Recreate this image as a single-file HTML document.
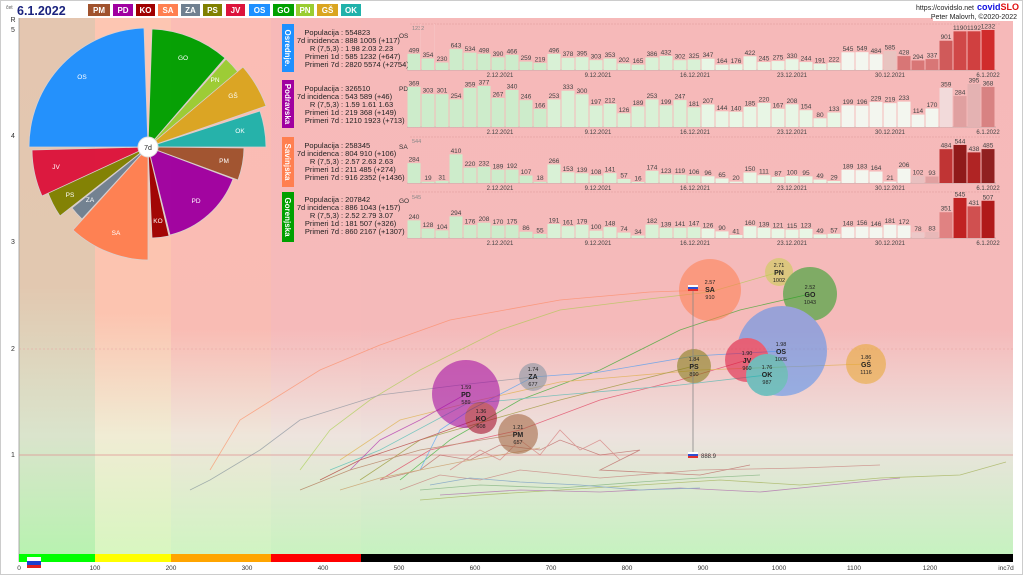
<!DOCTYPE html>
<html><head><meta charset="utf-8"><style>
html,body{margin:0;padding:0;background:#fff;width:1024px;height:576px;overflow:hidden}
svg{display:block;font-family:"Liberation Sans",sans-serif}
.bl{font-size:6.5px;fill:#444;text-anchor:middle}
.inf{font-size:7.5px;fill:#222}
.dt{font-size:6px;fill:#444;text-anchor:middle}
.pl{font-size:6.5px;fill:#fff;text-anchor:middle}
.bt{text-anchor:middle;fill:#222}
.ax{font-size:6.5px;fill:#333;text-anchor:middle}
</style></head><body>
<svg width="1024" height="576" viewBox="0 0 1024 576">
<defs>
<linearGradient id="bg" x1="0" y1="0" x2="0" y2="1">
<stop offset="0" stop-color="#f6b9b9"/><stop offset="0.58" stop-color="#f5baba"/><stop offset="0.78" stop-color="#ede2de"/><stop offset="1" stop-color="#c6f2c0"/></linearGradient>
<linearGradient id="c1" x1="0" y1="0" x2="0" y2="1"><stop offset="0" stop-color="#e4c6b0"/><stop offset="0.5" stop-color="#e2c8b0"/><stop offset="0.78" stop-color="#dae4cc"/><stop offset="1" stop-color="#b8f2b0"/></linearGradient>
<linearGradient id="c2" x1="0" y1="0" x2="0" y2="1"><stop offset="0" stop-color="#fdc6b2"/><stop offset="0.55" stop-color="#fcc4b0"/><stop offset="0.78" stop-color="#f0ecd4"/><stop offset="1" stop-color="#d8f6c0"/></linearGradient>
<linearGradient id="c3" x1="0" y1="0" x2="0" y2="1"><stop offset="0" stop-color="#fbbdb5"/><stop offset="0.58" stop-color="#f9bcb4"/><stop offset="0.78" stop-color="#efe6da"/><stop offset="1" stop-color="#d0f4c2"/></linearGradient>
<linearGradient id="c4" x1="0" y1="0" x2="0" y2="1"><stop offset="0" stop-color="#f7b9b8"/><stop offset="0.58" stop-color="#f6baba"/><stop offset="0.78" stop-color="#eee4de"/><stop offset="1" stop-color="#caf2c0"/></linearGradient>
</defs>
<rect x="0" y="0" width="1024" height="576" fill="#fff"/>
<rect x="0.5" y="0.5" width="1022" height="574" fill="none" stroke="#ccc"/>
<rect x="19" y="18" width="994" height="536" fill="url(#bg)"/>
<rect x="19" y="18" width="76" height="536" fill="url(#c1)"/>
<rect x="95" y="18" width="76" height="536" fill="url(#c2)"/>
<rect x="171" y="18" width="100" height="536" fill="url(#c3)"/>
<rect x="271" y="18" width="90" height="536" fill="url(#c4)"/>
<line x1="19" y1="18" x2="19" y2="562" stroke="#999" stroke-width="0.8"/>
<line x1="19" y1="349" x2="1013" y2="349" stroke="#e8a0a0" stroke-width="0.6" stroke-dasharray="2,2"/>
<line x1="19" y1="455" x2="1013" y2="455" stroke="#e09090" stroke-width="0.8"/>
<rect x="19" y="554" width="76" height="8" fill="#00ff00"/>
<rect x="95" y="554" width="76" height="8" fill="#ffff00"/>
<rect x="171" y="554" width="100" height="8" fill="#ffa500"/>
<rect x="271" y="554" width="90" height="8" fill="#ff0000"/>
<rect x="361" y="554" width="652" height="8" fill="#000"/>
<rect x="27" y="557" width="14" height="4" fill="#fff"/><rect x="27" y="561" width="14" height="4" fill="#1c3fd0"/><rect x="27" y="565" width="14" height="3" fill="#e02020"/>
<g class="ax"><text x="19" y="570">0</text><text x="95" y="570">100</text><text x="171" y="570">200</text><text x="247" y="570">300</text><text x="323" y="570">400</text><text x="399" y="570">500</text><text x="475" y="570">600</text><text x="551" y="570">700</text><text x="627" y="570">800</text><text x="703" y="570">900</text><text x="779" y="570">1000</text><text x="854" y="570">1100</text><text x="930" y="570">1200</text><text x="1006" y="570">inc7d</text></g>
<g style="font-size:7px;fill:#333" text-anchor="middle"><text x="13" y="22">R</text><text x="13" y="32">5</text><text x="13" y="138">4</text><text x="13" y="244">3</text><text x="13" y="351">2</text><text x="13" y="457">1</text></g>

<text x="6" y="9" style="font-size:5px;fill:#555">čet</text>
<text x="17" y="15" style="font-size:12.5px;font-weight:bold;fill:#1a237e">6.1.2022</text>
<g style="font-size:8px;font-weight:bold" fill="#fff" text-anchor="middle">
<rect x="88" y="4" width="22" height="12" fill="#a0522d"/><text x="99" y="13">PM</text>
<rect x="113" y="4" width="20" height="12" fill="#a000a0"/><text x="123" y="13">PD</text>
<rect x="136" y="4" width="19" height="12" fill="#a00000"/><text x="145.5" y="13">KO</text>
<rect x="158" y="4" width="20" height="12" fill="#ff7f50"/><text x="168" y="13">SA</text>
<rect x="181" y="4" width="19" height="12" fill="#708090"/><text x="190.5" y="13">ZA</text>
<rect x="203" y="4" width="19" height="12" fill="#808000"/><text x="212.5" y="13">PS</text>
<rect x="226" y="4" width="19" height="12" fill="#dc143c"/><text x="235.5" y="13">JV</text>
<rect x="249" y="4" width="21" height="12" fill="#1e90ff"/><text x="259.5" y="13">OS</text>
<rect x="273" y="4" width="21" height="12" fill="#00a000"/><text x="283.5" y="13">GO</text>
<rect x="296" y="4" width="18" height="12" fill="#9acd32"/><text x="305" y="13">PN</text>
<rect x="317" y="4" width="21" height="12" fill="#daa520"/><text x="327.5" y="13">GŠ</text>
<rect x="341" y="4" width="20" height="12" fill="#20b2aa"/><text x="351" y="13">OK</text>
</g>
<text x="974" y="10" text-anchor="end" style="font-size:7px;fill:#222">https://covidslo.net</text>
<text x="977" y="10" style="font-size:9px;font-weight:bold;fill:#1010e0">covid<tspan fill="#e01010">SLO</tspan></text>
<rect x="933" y="12" width="86" height="9" fill="#fff"/>
<text x="1017" y="19" text-anchor="end" style="font-size:7px;fill:#222">Peter Malovrh, ©2020-2022</text>

<g stroke="#d8d0d0" stroke-width="0.8" opacity="0.97">
<path d="M148,147 L29,147 A119,119 0 0 1 144,28 Z" fill="#1e90ff"/>
<path d="M148,147 L152,29 A118,118 0 0 1 225,58 Z" fill="#00a000"/>
<path d="M148,147 L226,59 A117,117 0 0 1 238,72 Z" fill="#9acd32"/>
<path d="M148,147 L243,67 A124,124 0 0 1 266,106 Z" fill="#daa520"/>
<path d="M148,147 L260,111 A118,118 0 0 1 266,147 Z" fill="#20b2aa"/>
<path d="M148,147 L244,148 A96,96 0 0 1 238,180 Z" fill="#a0522d"/>
<path d="M148,147 L233,179 A90,90 0 0 1 170,235 Z" fill="#a000a0"/>
<path d="M148,147 L169,236 A91,91 0 0 1 152,238 Z" fill="#a00000"/>
<path d="M148,147 L148,260 A113,113 0 0 1 73,230 Z" fill="#ff7f50"/>
<path d="M148,147 L82,219 A98,98 0 0 1 72,208 Z" fill="#708090"/>
<path d="M148,147 L60,216 A112,112 0 0 1 47,190 Z" fill="#808000"/>
<path d="M148,147 L42,196 A117,117 0 0 1 32,150 Z" fill="#dc143c"/>
</g>
<g class="pl"><text x="82" y="79">OS</text><text x="183" y="60">GO</text><text x="215" y="82">PN</text><text x="233" y="98">GŠ</text><text x="240" y="133">OK</text><text x="224" y="163">PM</text><text x="196" y="203">PD</text><text x="158" y="223">KO</text><text x="116" y="235">SA</text><text x="90" y="202">ZA</text><text x="70" y="197">PS</text><text x="56" y="169">JV</text></g>
<circle cx="148" cy="147" r="10" fill="#fff" stroke="#ddd"/>
<text x="148" y="150" class="bt" style="font-size:7px">7d</text>

<rect x="282" y="24" width="12" height="48" fill="#1e90ff"/>
<rect x="282" y="80" width="12" height="48" fill="#a000a0"/>
<rect x="282" y="137" width="12" height="50" fill="#ff7f50"/>
<rect x="282" y="192" width="12" height="50" fill="#00a000"/>
<g style="font-size:8px;font-weight:bold" fill="#fff" text-anchor="middle">
<text transform="translate(285,48) rotate(90)">Osrednje.</text>
<text transform="translate(285,104) rotate(90)">Podravska</text>
<text transform="translate(285,162) rotate(90)">Savinjska</text>
<text transform="translate(285,217) rotate(90)">Gorenjska</text>
</g>
<g class="inf">
<g text-anchor="end"><text x="339" y="35">Populacija</text><text x="339" y="43">7d incidenca</text><text x="339" y="51">R (7,5,3)</text><text x="339" y="59">Primeri 1d</text><text x="339" y="67">Primeri 7d</text>
<text x="339" y="91">Populacija</text><text x="339" y="99">7d incidenca</text><text x="339" y="107">R (7,5,3)</text><text x="339" y="115">Primeri 1d</text><text x="339" y="123">Primeri 7d</text>
<text x="339" y="148">Populacija</text><text x="339" y="156">7d incidenca</text><text x="339" y="164">R (7,5,3)</text><text x="339" y="172">Primeri 1d</text><text x="339" y="180">Primeri 7d</text>
<text x="339" y="202">Populacija</text><text x="339" y="210">7d incidenca</text><text x="339" y="218">R (7,5,3)</text><text x="339" y="226">Primeri 1d</text><text x="339" y="234">Primeri 7d</text></g>
<text x="341" y="35">: 554823</text><text x="341" y="43">: 888 1005 (+117)</text><text x="341" y="51">: 1.98 2.03 2.23</text><text x="341" y="59">: 585 1232 (+647)</text><text x="341" y="67">: 2820 5574 (+2754)</text>
<text x="341" y="91">: 326510</text><text x="341" y="99">: 543 589 (+46)</text><text x="341" y="107">: 1.59 1.61 1.63</text><text x="341" y="115">: 219 368 (+149)</text><text x="341" y="123">: 1210 1923 (+713)</text>
<text x="341" y="148">: 258345</text><text x="341" y="156">: 804 910 (+106)</text><text x="341" y="164">: 2.57 2.63 2.63</text><text x="341" y="172">: 211 485 (+274)</text><text x="341" y="180">: 916 2352 (+1436)</text>
<text x="341" y="202">: 207842</text><text x="341" y="210">: 886 1043 (+157)</text><text x="341" y="218">: 2.52 2.79 3.07</text><text x="341" y="226">: 181 507 (+326)</text><text x="341" y="234">: 860 2167 (+1307)</text>
</g>
<g style="font-size:6.5px;fill:#333"><text x="399" y="38">OS</text><text x="399" y="91">PD</text><text x="399" y="149">SA</text><text x="399" y="203">GO</text></g>
<g style="font-size:5.5px;fill:#888"><text x="412" y="30">1232</text><text x="412" y="143">544</text><text x="412" y="199">545</text></g>
<g stroke="#d99" stroke-width="0.5" stroke-dasharray="2,1"><line x1="410" y1="24" x2="1000" y2="24"/><line x1="410" y1="137" x2="1000" y2="137"/><line x1="410" y1="192" x2="1000" y2="192"/></g>
<g stroke="#999" stroke-width="0.6"><line x1="407" y1="70" x2="996" y2="70"/><line x1="407" y1="127" x2="996" y2="127"/><line x1="407" y1="183" x2="996" y2="183"/><line x1="407" y1="238" x2="996" y2="238"/></g>
<g class="dt"><text x="500" y="77">2.12.2021</text><text x="598" y="77">9.12.2021</text><text x="695" y="77">16.12.2021</text><text x="792" y="77">23.12.2021</text><text x="890" y="77">30.12.2021</text><text x="988" y="77">6.1.2022</text>
<text x="500" y="134">2.12.2021</text><text x="598" y="134">9.12.2021</text><text x="695" y="134">16.12.2021</text><text x="792" y="134">23.12.2021</text><text x="890" y="134">30.12.2021</text><text x="988" y="134">6.1.2022</text>
<text x="500" y="190">2.12.2021</text><text x="598" y="190">9.12.2021</text><text x="695" y="190">16.12.2021</text><text x="792" y="190">23.12.2021</text><text x="890" y="190">30.12.2021</text><text x="988" y="190">6.1.2022</text>
<text x="500" y="245">2.12.2021</text><text x="598" y="245">9.12.2021</text><text x="695" y="245">16.12.2021</text><text x="792" y="245">23.12.2021</text><text x="890" y="245">30.12.2021</text><text x="988" y="245">6.1.2022</text></g>

<g stroke="#f2c0c0" stroke-width="0">
<g transform="translate(0,70) scale(1,-0.03247)">
<g fill="#cdeccb"><rect x="407.5" y="0" width="13" height="499"/><rect x="421.5" y="0" width="13" height="354"/><rect x="435.5" y="0" width="13" height="230"/><rect x="449.5" y="0" width="13" height="643"/><rect x="463.5" y="0" width="13" height="534"/><rect x="477.5" y="0" width="13" height="498"/><rect x="491.5" y="0" width="13" height="390"/><rect x="505.5" y="0" width="13" height="466"/><rect x="519.5" y="0" width="13" height="259"/><rect x="533.5" y="0" width="13" height="219"/></g>
<g fill="#d9f1d6"><rect x="547.5" y="0" width="13" height="496"/><rect x="561.5" y="0" width="13" height="378"/><rect x="575.5" y="0" width="13" height="395"/><rect x="589.5" y="0" width="13" height="303"/><rect x="603.5" y="0" width="13" height="353"/><rect x="617.5" y="0" width="13" height="202"/><rect x="631.5" y="0" width="13" height="165"/><rect x="645.5" y="0" width="13" height="386"/><rect x="659.5" y="0" width="13" height="432"/><rect x="673.5" y="0" width="13" height="302"/><rect x="687.5" y="0" width="13" height="325"/></g>
<g fill="#e8f6e5"><rect x="701.5" y="0" width="13" height="347"/><rect x="715.5" y="0" width="13" height="164"/><rect x="729.5" y="0" width="13" height="176"/><rect x="743.5" y="0" width="13" height="422"/><rect x="757.5" y="0" width="13" height="245"/><rect x="771.5" y="0" width="13" height="275"/><rect x="785.5" y="0" width="13" height="330"/><rect x="799.5" y="0" width="13" height="244"/><rect x="813.5" y="0" width="13" height="191"/><rect x="827.5" y="0" width="13" height="222"/></g>
<g fill="#f3f6ef"><rect x="841.5" y="0" width="13" height="545"/><rect x="855.5" y="0" width="13" height="549"/><rect x="869.5" y="0" width="13" height="484"/></g>
<rect x="883.5" y="0" width="13" height="585" fill="#e8c4c0"/><rect x="897.5" y="0" width="13" height="428" fill="#d87676"/><rect x="911.5" y="0" width="13" height="294" fill="#d87676"/><rect x="925.5" y="0" width="13" height="337" fill="#d87676"/>
<rect x="939.5" y="0" width="13" height="901" fill="#d05a5a"/><rect x="953.5" y="0" width="13" height="1190" fill="#d04848"/><rect x="967.5" y="0" width="13" height="1192" fill="#d04040"/><rect x="981.5" y="0" width="13" height="1232" fill="#d02c2c"/>
</g>
</g>
<g class="bl"><text x="414" y="52.3">499</text><text x="428" y="57">354</text><text x="442" y="61">230</text><text x="456" y="47.6">643</text><text x="470" y="51.2">534</text><text x="484" y="52.3">498</text><text x="498" y="55.8">390</text><text x="512" y="53.4">466</text><text x="526" y="60.1">259</text><text x="540" y="61.4">219</text><text x="554" y="52.4">496</text><text x="568" y="56.2">378</text><text x="582" y="55.7">395</text><text x="596" y="58.7">303</text><text x="610" y="57">353</text><text x="624" y="61.9">202</text><text x="638" y="63.1">165</text><text x="652" y="56">386</text><text x="666" y="54.5">432</text><text x="680" y="58.7">302</text><text x="694" y="57.9">325</text><text x="708" y="57.2">347</text><text x="722" y="63.2">164</text><text x="736" y="62.8">176</text><text x="750" y="54.8">422</text><text x="764" y="60.5">245</text><text x="778" y="59.6">275</text><text x="792" y="57.8">330</text><text x="806" y="60.6">244</text><text x="820" y="62.3">191</text><text x="834" y="61.3">222</text><text x="848" y="50.8">545</text><text x="862" y="50.7">549</text><text x="876" y="52.8">484</text><text x="890" y="49.5">585</text><text x="904" y="54.6">428</text><text x="918" y="59">294</text><text x="932" y="57.6">337</text><text x="946" y="39.2">901</text><text x="960" y="29.9">1190</text><text x="974" y="29.8">1192</text><text x="988" y="28.5">1232</text></g>

<g transform="translate(0,127) scale(1,-0.1089)">
<g fill="#cdeccb"><rect x="407.5" y="0" width="13" height="369"/><rect x="421.5" y="0" width="13" height="303"/><rect x="435.5" y="0" width="13" height="301"/><rect x="449.5" y="0" width="13" height="254"/><rect x="463.5" y="0" width="13" height="359"/><rect x="477.5" y="0" width="13" height="377"/><rect x="491.5" y="0" width="13" height="267"/><rect x="505.5" y="0" width="13" height="340"/><rect x="519.5" y="0" width="13" height="246"/><rect x="533.5" y="0" width="13" height="166"/></g>
<g fill="#d9f1d6"><rect x="547.5" y="0" width="13" height="253"/><rect x="561.5" y="0" width="13" height="333"/><rect x="575.5" y="0" width="13" height="300"/><rect x="589.5" y="0" width="13" height="197"/><rect x="603.5" y="0" width="13" height="212"/><rect x="617.5" y="0" width="13" height="126"/><rect x="631.5" y="0" width="13" height="189"/><rect x="645.5" y="0" width="13" height="253"/><rect x="659.5" y="0" width="13" height="199"/><rect x="673.5" y="0" width="13" height="247"/><rect x="687.5" y="0" width="13" height="181"/></g>
<g fill="#e8f6e5"><rect x="701.5" y="0" width="13" height="207"/><rect x="715.5" y="0" width="13" height="144"/><rect x="729.5" y="0" width="13" height="140"/><rect x="743.5" y="0" width="13" height="185"/><rect x="757.5" y="0" width="13" height="220"/><rect x="771.5" y="0" width="13" height="167"/><rect x="785.5" y="0" width="13" height="208"/><rect x="799.5" y="0" width="13" height="154"/><rect x="813.5" y="0" width="13" height="80"/><rect x="827.5" y="0" width="13" height="133"/></g>
<g fill="#f3f6ef"><rect x="841.5" y="0" width="13" height="199"/><rect x="855.5" y="0" width="13" height="196"/><rect x="869.5" y="0" width="13" height="229"/><rect x="883.5" y="0" width="13" height="219"/><rect x="897.5" y="0" width="13" height="233"/><rect x="911.5" y="0" width="13" height="114"/><rect x="925.5" y="0" width="13" height="170"/></g>
<rect x="939.5" y="0" width="13" height="359" fill="#f2dada"/><rect x="953.5" y="0" width="13" height="284" fill="#e0a0a0"/><rect x="967.5" y="0" width="13" height="395" fill="#e4b2b2"/><rect x="981.5" y="0" width="13" height="368" fill="#d88282"/>
</g>
<g class="bl"><text x="414" y="85.3">369</text><text x="428" y="92.5">303</text><text x="442" y="92.7">301</text><text x="456" y="97.8">254</text><text x="470" y="86.4">359</text><text x="484" y="84.4">377</text><text x="498" y="96.4">267</text><text x="512" y="88.5">340</text><text x="526" y="98.7">246</text><text x="540" y="107.4">166</text><text x="554" y="97.9">253</text><text x="568" y="89.2">333</text><text x="582" y="92.8">300</text><text x="596" y="104">197</text><text x="610" y="102.4">212</text><text x="624" y="111.8">126</text><text x="638" y="104.9">189</text><text x="652" y="97.9">253</text><text x="666" y="103.8">199</text><text x="680" y="98.6">247</text><text x="694" y="105.8">181</text><text x="708" y="103">207</text><text x="722" y="109.8">144</text><text x="736" y="110.3">140</text><text x="750" y="105.4">185</text><text x="764" y="101.5">220</text><text x="778" y="107.3">167</text><text x="792" y="102.8">208</text><text x="806" y="108.7">154</text><text x="820" y="116.8">80</text><text x="834" y="111">133</text><text x="848" y="103.8">199</text><text x="862" y="104.2">196</text><text x="876" y="100.6">229</text><text x="890" y="101.7">219</text><text x="904" y="100.1">233</text><text x="918" y="113.1">114</text><text x="932" y="107">170</text><text x="946" y="86.4">359</text><text x="960" y="94.6">284</text><text x="974" y="82.5">395</text><text x="988" y="85.4">368</text></g>

<g transform="translate(0,183) scale(1,-0.0699)">
<g fill="#cdeccb"><rect x="407.5" y="0" width="13" height="284"/><rect x="421.5" y="0" width="13" height="19"/><rect x="435.5" y="0" width="13" height="31"/><rect x="449.5" y="0" width="13" height="410"/><rect x="463.5" y="0" width="13" height="220"/><rect x="477.5" y="0" width="13" height="232"/><rect x="491.5" y="0" width="13" height="189"/><rect x="505.5" y="0" width="13" height="192"/><rect x="519.5" y="0" width="13" height="107"/><rect x="533.5" y="0" width="13" height="18"/></g>
<g fill="#d9f1d6"><rect x="547.5" y="0" width="13" height="266"/><rect x="561.5" y="0" width="13" height="153"/><rect x="575.5" y="0" width="13" height="139"/><rect x="589.5" y="0" width="13" height="108"/><rect x="603.5" y="0" width="13" height="141"/><rect x="617.5" y="0" width="13" height="57"/><rect x="631.5" y="0" width="13" height="16"/><rect x="645.5" y="0" width="13" height="174"/><rect x="659.5" y="0" width="13" height="123"/><rect x="673.5" y="0" width="13" height="119"/><rect x="687.5" y="0" width="13" height="106"/></g>
<g fill="#e8f6e5"><rect x="701.5" y="0" width="13" height="96"/><rect x="715.5" y="0" width="13" height="65"/><rect x="729.5" y="0" width="13" height="20"/><rect x="743.5" y="0" width="13" height="150"/><rect x="757.5" y="0" width="13" height="111"/><rect x="771.5" y="0" width="13" height="87"/><rect x="785.5" y="0" width="13" height="100"/><rect x="799.5" y="0" width="13" height="95"/><rect x="813.5" y="0" width="13" height="49"/><rect x="827.5" y="0" width="13" height="29"/></g>
<g fill="#f3f6ef"><rect x="841.5" y="0" width="13" height="189"/><rect x="855.5" y="0" width="13" height="183"/><rect x="869.5" y="0" width="13" height="164"/><rect x="883.5" y="0" width="13" height="21"/><rect x="897.5" y="0" width="13" height="206"/></g>
<rect x="911.5" y="0" width="13" height="102" fill="#e8c0c0"/><rect x="925.5" y="0" width="13" height="93" fill="#e0a0a0"/>
<rect x="939.5" y="0" width="13" height="484" fill="#c03434"/><rect x="953.5" y="0" width="13" height="544" fill="#901a1a"/><rect x="967.5" y="0" width="13" height="438" fill="#b02424"/><rect x="981.5" y="0" width="13" height="485" fill="#902020"/>
</g>
<g class="bl"><text x="414" y="161.6">284</text><text x="428" y="180.2">19</text><text x="442" y="179.3">31</text><text x="456" y="152.8">410</text><text x="470" y="166.1">220</text><text x="484" y="165.3">232</text><text x="498" y="168.3">189</text><text x="512" y="168.1">192</text><text x="526" y="174">107</text><text x="540" y="180.2">18</text><text x="554" y="162.9">266</text><text x="568" y="170.8">153</text><text x="582" y="171.8">139</text><text x="596" y="174">108</text><text x="610" y="171.6">141</text><text x="624" y="177.5">57</text><text x="638" y="180.4">16</text><text x="652" y="169.3">174</text><text x="666" y="172.9">123</text><text x="680" y="173.2">119</text><text x="694" y="174.1">106</text><text x="708" y="174.8">96</text><text x="722" y="177">65</text><text x="736" y="180.1">20</text><text x="750" y="171">150</text><text x="764" y="173.7">111</text><text x="778" y="175.4">87</text><text x="792" y="174.5">100</text><text x="806" y="174.9">95</text><text x="820" y="178.1">49</text><text x="834" y="179.5">29</text><text x="848" y="168.3">189</text><text x="862" y="168.7">183</text><text x="876" y="170">164</text><text x="890" y="180">21</text><text x="904" y="167.1">206</text><text x="918" y="174.4">102</text><text x="932" y="175">93</text><text x="946" y="147.7">484</text><text x="960" y="143.5">544</text><text x="974" y="150.9">438</text><text x="988" y="147.6">485</text></g>

<g transform="translate(0,238) scale(1,-0.0734)">
<g fill="#cdeccb"><rect x="407.5" y="0" width="13" height="240"/><rect x="421.5" y="0" width="13" height="128"/><rect x="435.5" y="0" width="13" height="104"/><rect x="449.5" y="0" width="13" height="294"/><rect x="463.5" y="0" width="13" height="176"/><rect x="477.5" y="0" width="13" height="208"/><rect x="491.5" y="0" width="13" height="170"/><rect x="505.5" y="0" width="13" height="175"/><rect x="519.5" y="0" width="13" height="86"/><rect x="533.5" y="0" width="13" height="55"/></g>
<g fill="#d9f1d6"><rect x="547.5" y="0" width="13" height="191"/><rect x="561.5" y="0" width="13" height="161"/><rect x="575.5" y="0" width="13" height="179"/><rect x="589.5" y="0" width="13" height="100"/><rect x="603.5" y="0" width="13" height="148"/><rect x="617.5" y="0" width="13" height="74"/><rect x="631.5" y="0" width="13" height="34"/><rect x="645.5" y="0" width="13" height="182"/><rect x="659.5" y="0" width="13" height="139"/><rect x="673.5" y="0" width="13" height="141"/><rect x="687.5" y="0" width="13" height="147"/></g>
<g fill="#e8f6e5"><rect x="701.5" y="0" width="13" height="126"/><rect x="715.5" y="0" width="13" height="90"/><rect x="729.5" y="0" width="13" height="41"/><rect x="743.5" y="0" width="13" height="160"/><rect x="757.5" y="0" width="13" height="139"/><rect x="771.5" y="0" width="13" height="121"/><rect x="785.5" y="0" width="13" height="115"/><rect x="799.5" y="0" width="13" height="123"/><rect x="813.5" y="0" width="13" height="49"/><rect x="827.5" y="0" width="13" height="57"/></g>
<g fill="#f3f6ef"><rect x="841.5" y="0" width="13" height="148"/><rect x="855.5" y="0" width="13" height="156"/><rect x="869.5" y="0" width="13" height="146"/><rect x="883.5" y="0" width="13" height="181"/><rect x="897.5" y="0" width="13" height="172"/></g>
<rect x="911.5" y="0" width="13" height="78" fill="#ecc8c8"/><rect x="925.5" y="0" width="13" height="83" fill="#e8b8b8"/>
<rect x="939.5" y="0" width="13" height="351" fill="#e08282"/><rect x="953.5" y="0" width="13" height="545" fill="#c02222"/><rect x="967.5" y="0" width="13" height="431" fill="#d05050"/><rect x="981.5" y="0" width="13" height="507" fill="#b01a1a"/>
</g>
<g class="bl"><text x="414" y="218.9">240</text><text x="428" y="227.1">128</text><text x="442" y="228.9">104</text><text x="456" y="214.9">294</text><text x="470" y="223.6">176</text><text x="484" y="221.2">208</text><text x="498" y="224">170</text><text x="512" y="223.7">175</text><text x="526" y="230.2">86</text><text x="540" y="232.5">55</text><text x="554" y="222.5">191</text><text x="568" y="224.7">161</text><text x="582" y="223.4">179</text><text x="596" y="229.2">100</text><text x="610" y="225.6">148</text><text x="624" y="231.1">74</text><text x="638" y="234">34</text><text x="652" y="223.1">182</text><text x="666" y="226.3">139</text><text x="680" y="226.2">141</text><text x="694" y="225.7">147</text><text x="708" y="227.3">126</text><text x="722" y="229.9">90</text><text x="736" y="233.5">41</text><text x="750" y="224.8">160</text><text x="764" y="226.3">139</text><text x="778" y="227.6">121</text><text x="792" y="228.1">115</text><text x="806" y="227.5">123</text><text x="820" y="232.9">49</text><text x="834" y="232.3">57</text><text x="848" y="225.6">148</text><text x="862" y="225">156</text><text x="876" y="225.8">146</text><text x="890" y="223.2">181</text><text x="904" y="223.9">172</text><text x="918" y="230.8">78</text><text x="932" y="230.4">83</text><text x="946" y="210.7">351</text><text x="960" y="196.5">545</text><text x="974" y="204.9">431</text><text x="988" y="199.3">507</text></g>
<!-- bar gap lines -->
<g stroke="#f6c0c0" stroke-width="1">
<line x1="420.5" y1="24" x2="420.5" y2="70"/><line x1="434.5" y1="24" x2="434.5" y2="70"/>
</g>

<g fill="none" stroke-width="0.8" opacity="0.55">
<polyline stroke="#ff7f50" points="210,470 240,420 280,395 320,370 380,345 450,320 560,300 650,292 710,290"/>
<polyline stroke="#9acd32" points="300,470 330,430 370,400 420,370 500,330 560,310 640,300 710,292 779,272"/>
<polyline stroke="#00a000" points="400,480 450,440 520,400 600,370 680,330 740,310 810,294"/>
<polyline stroke="#1e90ff" points="420,470 440,430 470,410 533,377 600,372 694,356 782,351"/>
<polyline stroke="#dc143c" points="380,480 430,450 520,430 600,400 680,380 747,360"/>
<polyline stroke="#20b2aa" points="330,470 380,450 466,404 560,395 680,385 767,375"/>
<polyline stroke="#daa520" points="340,460 400,420 480,400 560,382 700,370 866,364"/>
<polyline stroke="#808000" points="360,480 420,440 490,420 560,400 694,366"/>
<polyline stroke="#a000a0" points="350,470 380,440 420,420 466,394"/>
<polyline stroke="#a00000" points="320,480 360,460 420,440 481,418"/>
<polyline stroke="#a0522d" points="300,490 350,470 420,450 518,434"/>
<polyline stroke="#708090" points="190,490 210,480 260,450 300,420 380,395 460,385 533,377"/>
<polyline stroke="#b04040" points="380,480 420,470 440,455 470,460 500,445 540,450 560,440 600,455 640,450 600,470 700,475 750,465"/>
<polyline stroke="#c06060" points="400,490 440,475 480,480 520,470 600,478 700,470 800,468 880,465"/>
<polyline stroke="#90a030" points="420,500 480,495 560,490 640,485 720,480 800,485 880,478 960,475 1006,462"/>
<polyline stroke="#a040a0" points="440,495 520,490 600,492 680,488 760,492 840,484 900,478"/>
<polyline stroke="#60a060" points="420,490 480,485 560,488 640,482 700,478 760,475"/>
<polyline stroke="#5080c0" points="430,485 470,478 520,482 580,485 640,490 700,488"/>
<polyline stroke="#c08040" points="340,490 380,478 420,470 460,462 500,455 540,448"/>
<polyline stroke="#d06060" points="450,470 480,450 500,460 520,440 540,455 560,430 580,450 600,440 620,460"/>
</g>
<g opacity="0.55">
<circle cx="710" cy="290" r="31" fill="#ff7f50"/>
<circle cx="779" cy="272" r="14" fill="#c8d050"/>
<circle cx="810" cy="294" r="27" fill="#20a020"/>
<circle cx="782" cy="351" r="45" fill="#4f8ff0"/>
<circle cx="747" cy="360" r="22" fill="#dc143c"/>
<circle cx="767" cy="375" r="21" fill="#10b0b0"/>
<circle cx="866" cy="364" r="20" fill="#e8a830"/>
<circle cx="694" cy="366" r="17" fill="#807a10"/>
<circle cx="533" cy="377" r="14" fill="#8090a0"/>
<circle cx="466" cy="394" r="34" fill="#a000a0"/>
<circle cx="481" cy="418" r="16" fill="#a00020"/>
<circle cx="518" cy="434" r="20" fill="#a0603a"/>
</g>
<line x1="693" y1="288" x2="693" y2="455" stroke="#888" stroke-width="0.8"/>
<rect x="688" y="285" width="10" height="2" fill="#fff"/><rect x="688" y="287" width="10" height="2" fill="#3050d0"/><rect x="688" y="289" width="10" height="2" fill="#e03030"/>
<rect x="688" y="452" width="10" height="2" fill="#fff"/><rect x="688" y="454" width="10" height="2" fill="#3050d0"/><rect x="688" y="456" width="10" height="2" fill="#e03030"/>
<text x="701" y="458" style="font-size:6px;fill:#333">888.9</text>
<g class="bt">
<text x="710" y="284" style="font-size:5.5px">2.57</text><text x="710" y="292" style="font-size:7px;font-weight:bold">SA</text><text x="710" y="299" style="font-size:5.5px">910</text>
<text x="779" y="267" style="font-size:5.5px">2.71</text><text x="779" y="275" style="font-size:7px;font-weight:bold">PN</text><text x="779" y="282" style="font-size:5.5px">1002</text>
<text x="810" y="289" style="font-size:5.5px">2.52</text><text x="810" y="297" style="font-size:7px;font-weight:bold">GO</text><text x="810" y="304" style="font-size:5.5px">1043</text>
<text x="781" y="346" style="font-size:5.5px">1.98</text><text x="781" y="354" style="font-size:7px;font-weight:bold">OS</text><text x="781" y="361" style="font-size:5.5px">1005</text>
<text x="747" y="355" style="font-size:5.5px">1.90</text><text x="747" y="363" style="font-size:7px;font-weight:bold">JV</text><text x="747" y="370" style="font-size:5.5px">960</text>
<text x="767" y="369" style="font-size:5.5px">1.76</text><text x="767" y="377" style="font-size:7px;font-weight:bold">OK</text><text x="767" y="384" style="font-size:5.5px">987</text>
<text x="866" y="359" style="font-size:5.5px">1.86</text><text x="866" y="367" style="font-size:7px;font-weight:bold">GŠ</text><text x="866" y="374" style="font-size:5.5px">1116</text>
<text x="694" y="361" style="font-size:5.5px">1.84</text><text x="694" y="369" style="font-size:7px;font-weight:bold">PS</text><text x="694" y="376" style="font-size:5.5px">890</text>
<text x="533" y="371" style="font-size:5.5px">1.74</text><text x="533" y="379" style="font-size:7px;font-weight:bold">ZA</text><text x="533" y="386" style="font-size:5.5px">677</text>
<text x="466" y="389" style="font-size:5.5px">1.59</text><text x="466" y="397" style="font-size:7px;font-weight:bold">PD</text><text x="466" y="404" style="font-size:5.5px">589</text>
<text x="481" y="413" style="font-size:5.5px">1.36</text><text x="481" y="421" style="font-size:7px;font-weight:bold">KO</text><text x="481" y="428" style="font-size:5.5px">608</text>
<text x="518" y="429" style="font-size:5.5px">1.21</text><text x="518" y="437" style="font-size:7px;font-weight:bold">PM</text><text x="518" y="444" style="font-size:5.5px">657</text>
</g>
</svg>
</body></html>
